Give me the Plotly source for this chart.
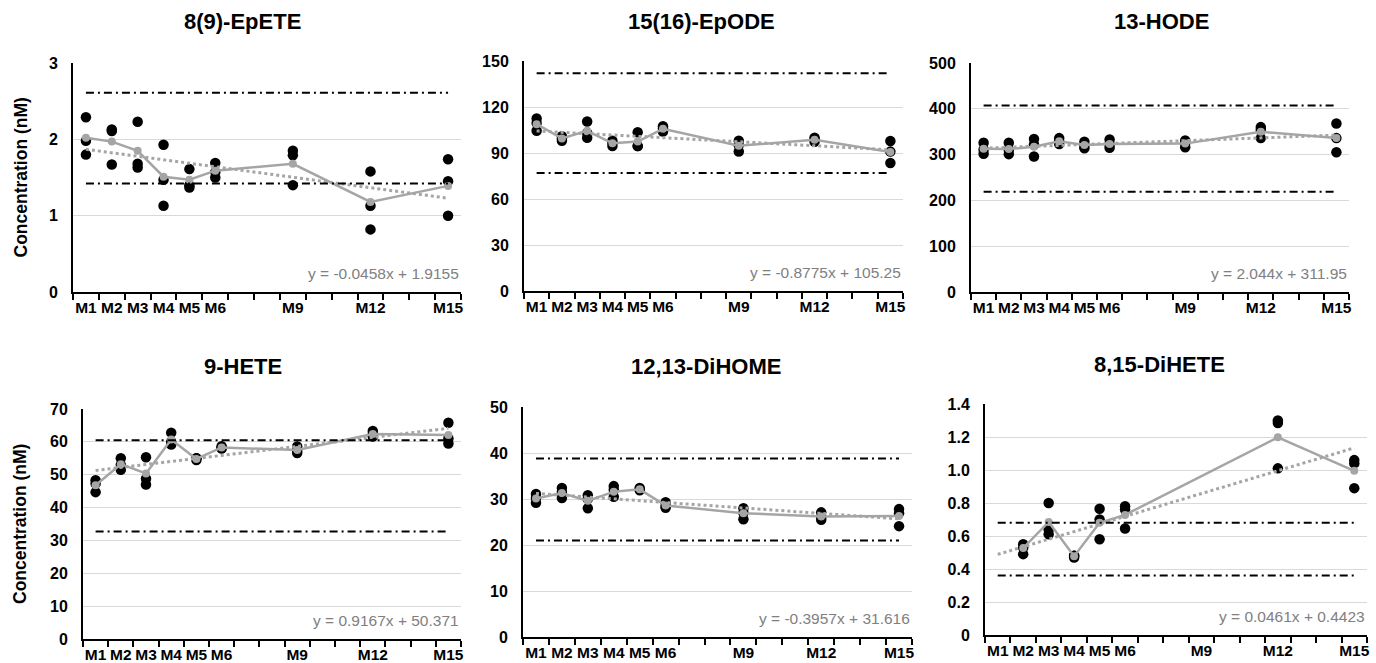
import plotly.graph_objects as go

# ---------------- data ----------------
MONTHS = [1, 2, 3, 4, 5, 6, 9, 12, 15]
MONTH_LABELS = ["M1", "M2", "M3", "M4", "M5", "M6", "M9", "M12", "M15"]

titles = ["8(9)-EpETE", "15(16)-EpODE", "13-HODE", "9-HETE", "12,13-DiHOME", "8,15-DiHETE"]

epete_months = MONTHS
epete_reps = [[2.29, 1.98, 1.80], [2.13, 2.11, 1.67], [2.23, 1.68, 1.63], [1.93, 1.47, 1.13],
              [1.61, 1.40, 1.37], [1.69, 1.57, 1.50], [1.85, 1.79, 1.40], [1.58, 1.13, 0.82],
              [1.74, 1.45, 1.00]]
epete_mean = [2.02, 1.97, 1.85, 1.51, 1.47, 1.59, 1.68, 1.18, 1.39]
epete_trend = (-0.0458, 1.9155)
epete_limits = (2.61, 1.42)
epete_yticks = [0, 1, 2, 3]
epete_yticktext = ["0", "1", "2", "3"]

epode_months = MONTHS
epode_reps = [[112.5, 109.5, 104.5], [101.0, 99.5, 98.0], [110.5, 103.0, 100.0], [98.0, 96.5, 94.5],
              [103.5, 94.5, 94.5], [107.5, 106.0, 104.0], [98.0, 95.0, 91.0], [100.0, 98.7, 97.3],
              [97.8, 90.9, 83.5]]
epode_mean = [108.8, 99.5, 104.5, 96.3, 97.5, 105.8, 94.7, 98.7, 90.7]
epode_trend = (-0.8775, 105.25)
epode_limits = (142.0, 77.0)
epode_yticks = [0, 30, 60, 90, 120, 150]
epode_yticktext = ["0", "30", "60", "90", "120", "150"]

hode_months = MONTHS
hode_reps = [[326, 311, 302], [326, 310, 301], [334, 322, 296], [336, 329, 323], [328, 320, 314],
             [333, 322, 315], [331, 325, 316], [360, 354, 336], [368, 336, 305]]
hode_mean = [313, 312, 317, 329, 321, 323, 324, 350, 336]
hode_trend = (2.044, 311.95)
hode_limits = (407.0, 219.0)
hode_yticks = [0, 100, 200, 300, 400, 500]
hode_yticktext = ["0", "100", "200", "300", "400", "500"]

hete_months = MONTHS
hete_reps = [[48.3, 47.3, 44.7], [55.0, 53.0, 51.5], [55.3, 48.8, 47.0], [62.8, 60.0, 59.2],
             [55.0, 55.0, 54.5], [58.7, 58.2, 58.0], [58.6, 57.3, 56.6], [63.3, 62.3, 61.6],
             [65.8, 61.0, 59.5]]
hete_mean = [46.8, 53.2, 50.4, 60.7, 54.8, 58.3, 57.5, 62.4, 62.1]
hete_trend = (0.9167, 50.371)
hete_limits = (60.5, 32.7)
hete_yticks = [0, 10, 20, 30, 40, 50, 60, 70]
hete_yticktext = ["0", "10", "20", "30", "40", "50", "60", "70"]

dihome_months = MONTHS
dihome_reps = [[31.1, 30.2, 29.2], [32.4, 31.5, 30.2], [30.8, 30.0, 28.0], [32.8, 32.0, 30.5],
               [32.4, 32.1, 31.9], [29.3, 28.5, 28.1], [28.0, 27.0, 25.6], [27.1, 26.1, 25.5],
               [27.8, 26.9, 24.1]]
dihome_mean = [30.1, 31.3, 29.6, 31.6, 32.1, 28.6, 26.9, 26.2, 26.3]
dihome_trend = (-0.3957, 31.616)
dihome_limits = (38.8, 21.0)
dihome_yticks = [0, 10, 20, 30, 40, 50]
dihome_yticktext = ["0", "10", "20", "30", "40", "50"]

dihete_months = [2, 3, 4, 5, 6, 12, 15]
dihete_reps = [[0.55, 0.53, 0.49], [0.80, 0.64, 0.61], [0.48, 0.48, 0.47], [0.765, 0.70, 0.58],
               [0.78, 0.76, 0.645], [1.30, 1.285, 1.01], [1.06, 1.04, 0.89]]
dihete_mean = [0.527, 0.685, 0.477, 0.68, 0.728, 1.198, 0.995]
dihete_trend = (0.0461, 0.4423)
dihete_limits = (0.68, 0.36)
dihete_yticks = [0, 0.2, 0.4, 0.6, 0.8, 1.0, 1.2, 1.4]
dihete_yticktext = ["0", "0.2", "0.4", "0.6", "0.8", "1.0", "1.2", "1.4"]

panels = [
    (epete_months, epete_reps, epete_mean, epete_trend, epete_limits, epete_yticks, epete_yticktext),
    (epode_months, epode_reps, epode_mean, epode_trend, epode_limits, epode_yticks, epode_yticktext),
    (hode_months, hode_reps, hode_mean, hode_trend, hode_limits, hode_yticks, hode_yticktext),
    (hete_months, hete_reps, hete_mean, hete_trend, hete_limits, hete_yticks, hete_yticktext),
    (dihome_months, dihome_reps, dihome_mean, dihome_trend, dihome_limits, dihome_yticks, dihome_yticktext),
    (dihete_months, dihete_reps, dihete_mean, dihete_trend, dihete_limits, dihete_yticks, dihete_yticktext),
]

# ---------------- layout geometry (pixels) ----------------
W, H = 1376, 663
# (left, right, top, bottom) of plot areas
boxes = [(73, 461, 63, 292), (524, 903, 61, 291), (971, 1349, 63, 292),
         (83, 461, 409, 639), (523, 912, 407, 637), (985, 1367, 404, 635)]
title_pos = [(242, 22), (701, 22), (1161, 22), (243, 366), (706, 366), (1159, 364)]

FONT = "Liberation Sans, Arial, sans-serif"
GREY = "#A5A5A5"

fig = go.Figure()
layout = dict(width=W, height=H, margin=dict(l=0, r=0, t=0, b=0, pad=0), autosize=False,
              plot_bgcolor="white", paper_bgcolor="white", showlegend=False,
              font=dict(family=FONT, color="black"))
annotations = []

for i, (months, reps, mean, trend, limits, yt, ytt) in enumerate(panels):
    n = i + 1
    xa = "x" if n == 1 else f"x{n}"
    ya = "y" if n == 1 else f"y{n}"
    l, r, t, b = boxes[i]

    # individual replicate dots
    xs, ys = [], []
    for m, vals in zip(months, reps):
        for v in vals:
            xs.append(m)
            ys.append(v)
    fig.add_trace(go.Scatter(x=xs, y=ys, mode="markers", xaxis=xa, yaxis=ya,
                             marker=dict(color="black", size=10.5), hoverinfo="skip"))
    # mean line
    fig.add_trace(go.Scatter(x=months, y=mean, mode="lines+markers", xaxis=xa, yaxis=ya,
                             line=dict(color=GREY, width=2.5),
                             marker=dict(color=GREY, size=8), hoverinfo="skip"))
    # linear trend (from fitted equation)
    slope, icpt = trend
    tx = [MONTHS[0], MONTHS[-1]]
    fig.add_trace(go.Scatter(x=tx, y=[slope * x + icpt for x in tx], mode="lines",
                             xaxis=xa, yaxis=ya,
                             line=dict(color=GREY, width=3, dash="dot"), hoverinfo="skip"))
    # reference limits
    for lim in limits:
        fig.add_trace(go.Scatter(x=tx, y=[lim, lim], mode="lines", xaxis=xa, yaxis=ya,
                                 line=dict(color="black", width=2, dash="8px,4px,2px,4px"),
                                 hoverinfo="skip"))

    layout[f"xaxis{'' if n == 1 else n}"] = dict(
        domain=[l / W, r / W], anchor=ya, range=[0.5, 15.5], automargin=False,
        tickmode="array", tickvals=MONTHS, ticktext=MONTH_LABELS, ticks="",
        tickfont=dict(size=15.5, weight="bold", color="black", family=FONT),
        showline=True, linecolor="black", linewidth=2, showgrid=False, zeroline=False,
        minor=dict(tickmode="linear", tick0=0.5, dtick=1, ticks="outside", ticklen=6,
                   tickwidth=2, tickcolor="black", showgrid=False),
    )
    layout[f"yaxis{'' if n == 1 else n}"] = dict(
        domain=[(H - b) / H, (H - t) / H], anchor=xa, range=[0, yt[-1]], automargin=False,
        tickmode="array", tickvals=yt, ticktext=ytt, ticks="",
        tickfont=dict(size=16, weight="bold", color="black", family=FONT),
        ticklabelstandoff=10,
        showline=True, linecolor="black", linewidth=2, showgrid=True,
        gridcolor="#D9D9D9", gridwidth=1, zeroline=False,
    )
    tx_, ty_ = title_pos[i]
    annotations.append(dict(text=f"<b>{titles[i]}</b>", x=tx_ / W, y=(H - ty_) / H,
                            xref="paper", yref="paper", showarrow=False,
                            xanchor="center", yanchor="middle",
                            font=dict(size=22, family=FONT, color="black")))
    sign = "-" if icpt < 0 else "+"
    eq = f"y = {slope:g}x {sign} {abs(icpt):g}"
    annotations.append(dict(text=eq, x=1.0, y=0.08, xref=f"{xa} domain", yref=f"{ya} domain",
                            showarrow=False, xanchor="right", yanchor="middle",
                            font=dict(size=15.5, family=FONT, color="#808080")))

for n in (0, 3):
    l, r, t, b = boxes[n]
    annotations.append(dict(text="<b>Concentration (nM)</b>", x=20 / W, y=(H - (t + b) / 2) / H,
                            xref="paper", yref="paper", showarrow=False, textangle=-90,
                            xanchor="center", yanchor="middle",
                            font=dict(size=17.5, family=FONT, color="black")))

layout["annotations"] = annotations
fig.update_layout(**layout)
fig.write_html("out.html")
